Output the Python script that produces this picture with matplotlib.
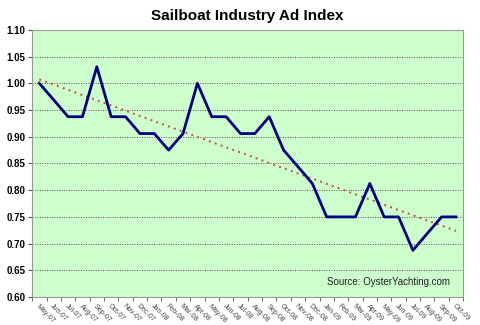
import matplotlib

matplotlib.use("Agg")
import matplotlib.pyplot as plt
import numpy as np

months = [
    "May-07", "Jun-07", "Jul-07", "Aug-07", "Sep-07", "Oct-07", "Nov-07", "Dec-07",
    "Jan-08", "Feb-08", "Mar-08", "Apr-08", "May-08", "Jun-08", "Jul-08", "Aug-08",
    "Sep-08", "Oct-08", "Nov-08", "Dec-08", "Jan-09", "Feb-09", "Mar-09", "Apr-09",
    "May-09", "Jun-09", "Jul-09", "Aug-09", "Sep-09", "Oct-09",
]
ad_index = [
    1.000, 0.969, 0.9375, 0.9375, 1.031, 0.9375, 0.9375, 0.906,
    0.906, 0.875, 0.906, 1.000, 0.9375, 0.9375, 0.906, 0.906,
    0.9375, 0.875, 0.844, 0.8125, 0.750, 0.750, 0.750, 0.8125,
    0.750, 0.750, 0.6875, 0.719, 0.750, 0.750,
]
y_ticks = [0.60, 0.65, 0.70, 0.75, 0.80, 0.85, 0.90, 0.95, 1.00, 1.05, 1.10]

plt.rcParams["font.family"] = ["Liberation Sans", "DejaVu Sans"]

x = np.arange(len(months))
slope, intercept = np.polyfit(x, ad_index, 1)

fig = plt.figure(figsize=(4.8, 3.25), dpi=100)
ax = fig.add_axes([0.067, 0.086, 0.898, 0.822])
ax.set_facecolor("#ccffcc")

ax.plot(x, intercept + slope * x, color="#c0504d", linestyle=(0, (1, 2.2)),
        linewidth=1.4, zorder=2)
ax.plot(x, ad_index, color="#000080", linewidth=2.0, zorder=3)

ax.set_xlim(-0.5, len(months) - 0.5)
ax.set_ylim(0.60, 1.10)
ax.set_yticks(y_ticks)
ax.set_yticklabels([f"{v:.2f}" for v in y_ticks], fontsize=7, fontweight="bold")
ax.yaxis.grid(True, color="#555555", linestyle=(0, (1, 1.5)), linewidth=0.7)
ax.set_axisbelow(True)

ax.set_xticks(x)
ax.set_xticklabels(months, rotation=-45, ha="left", rotation_mode="anchor",
                   fontsize=5, color="#444444")
ax.tick_params(axis="x", length=0, pad=4)
ax.set_xticks(np.arange(-0.5, len(months), 1), minor=True)
ax.tick_params(axis="x", which="minor", length=3, color="#555555")
ax.tick_params(axis="y", length=3, color="#555555", pad=2)

for spine in ax.spines.values():
    spine.set_color("#999999")
    spine.set_linewidth(0.8)

ax.set_title("Sailboat Industry Ad Index", fontsize=11, fontweight="bold", pad=7)
ax.text(0.97, 0.055, "Source: OysterYachting.com", transform=ax.transAxes,
        ha="right", va="center", fontsize=7, color="#222222")

fig.savefig("out.png", dpi=100)
plt.close(fig)
